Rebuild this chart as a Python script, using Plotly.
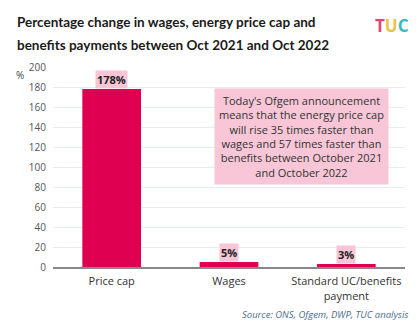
import plotly.graph_objects as go

categories = ["Price cap", "Wages", "Standard UC/benefits<br>payment"]
values = [178, 5, 3]
labels = ["178%", "5%", "3%"]
y_ticks = [0, 20, 40, 60, 80, 100, 120, 140, 160, 180, 200]
title_lines = ["Percentage change in wages, energy price cap and",
               "benefits payments between Oct 2021 and Oct 2022"]

FONT = "Open Sans"
BAR = "#df0051"
PINK = "#f8c6d6"

fig = go.Figure()
fig.add_trace(go.Bar(x=categories, y=values, marker=dict(color=BAR, line=dict(width=0)),
                     width=0.5, hoverinfo="skip"))

for c, v, t in zip(categories, values, labels):
    fig.add_annotation(x=c, y=v, text="<b>" + t + "</b>", showarrow=False, yshift=10,
                       bgcolor=PINK, borderpad=1, yanchor="middle",
                       font=dict(family=FONT, size=11, color="#222222"))

for line, yy in zip(title_lines, [1.225, 1.11]):
    fig.add_annotation(xref="paper", yref="paper", x=-0.107, y=yy, xanchor="left", yanchor="middle",
                       text="<b>" + line + "</b>", showarrow=False,
                       font=dict(family="Lato", size=13.5, color="#1a1a1a"))

fig.add_annotation(xref="paper", yref="paper", x=0.706, y=0.6525, xanchor="center", yanchor="middle",
                   text="Today's Ofgem announcement<br>means that the energy price cap<br>will rise 35 times faster than<br>wages and 57 times faster than<br>benefits between October 2021<br>and October 2022",
                   showarrow=False, bgcolor=PINK, borderpad=4, align="center",
                   font=dict(family=FONT, size=11, color="#333333"))

fig.add_annotation(xref="paper", yref="paper", x=-0.095, y=0.96, xanchor="center", yanchor="middle",
                   text="%", showarrow=False,
                   font=dict(family=FONT, size=10, color="#444444"))

fig.add_annotation(xref="paper", yref="paper", x=1.014, y=-0.235, xanchor="right", yanchor="middle",
                   text="<i>Source: ONS, Ofgem, DWP, TUC analysis</i>", showarrow=False,
                   font=dict(family=FONT, size=9.5, color="#4a6d8c"))

fig.add_annotation(xref="paper", yref="paper", x=1.017, y=1.21, xanchor="right", yanchor="middle",
                   text="<b><span style='color:#e0447a'>T</span><span style='color:#e8c44a'>U</span><span style='color:#3bb8c4'>C</span></b>",
                   showarrow=False, font=dict(family=FONT, size=17))

fig.update_layout(
    width=419, height=327,
    margin=dict(l=53, r=14, t=67, b=60),
    paper_bgcolor="white", plot_bgcolor="white",
    showlegend=False,
    font=dict(family=FONT, size=10, color="#444444"),
    bargap=0.5,
)
fig.update_yaxes(range=[0, 200], tickvals=y_ticks, showgrid=True, gridcolor="#e3ecef",
                 zeroline=False, ticks="", tickfont=dict(size=10, color="#555555"), ticklabelstandoff=6)
fig.update_xaxes(showline=True, linecolor="#888888", linewidth=2, ticks="",
                 tickfont=dict(size=11, color="#333333"), ticklabelstandoff=3)

fig.write_html("out.html")
